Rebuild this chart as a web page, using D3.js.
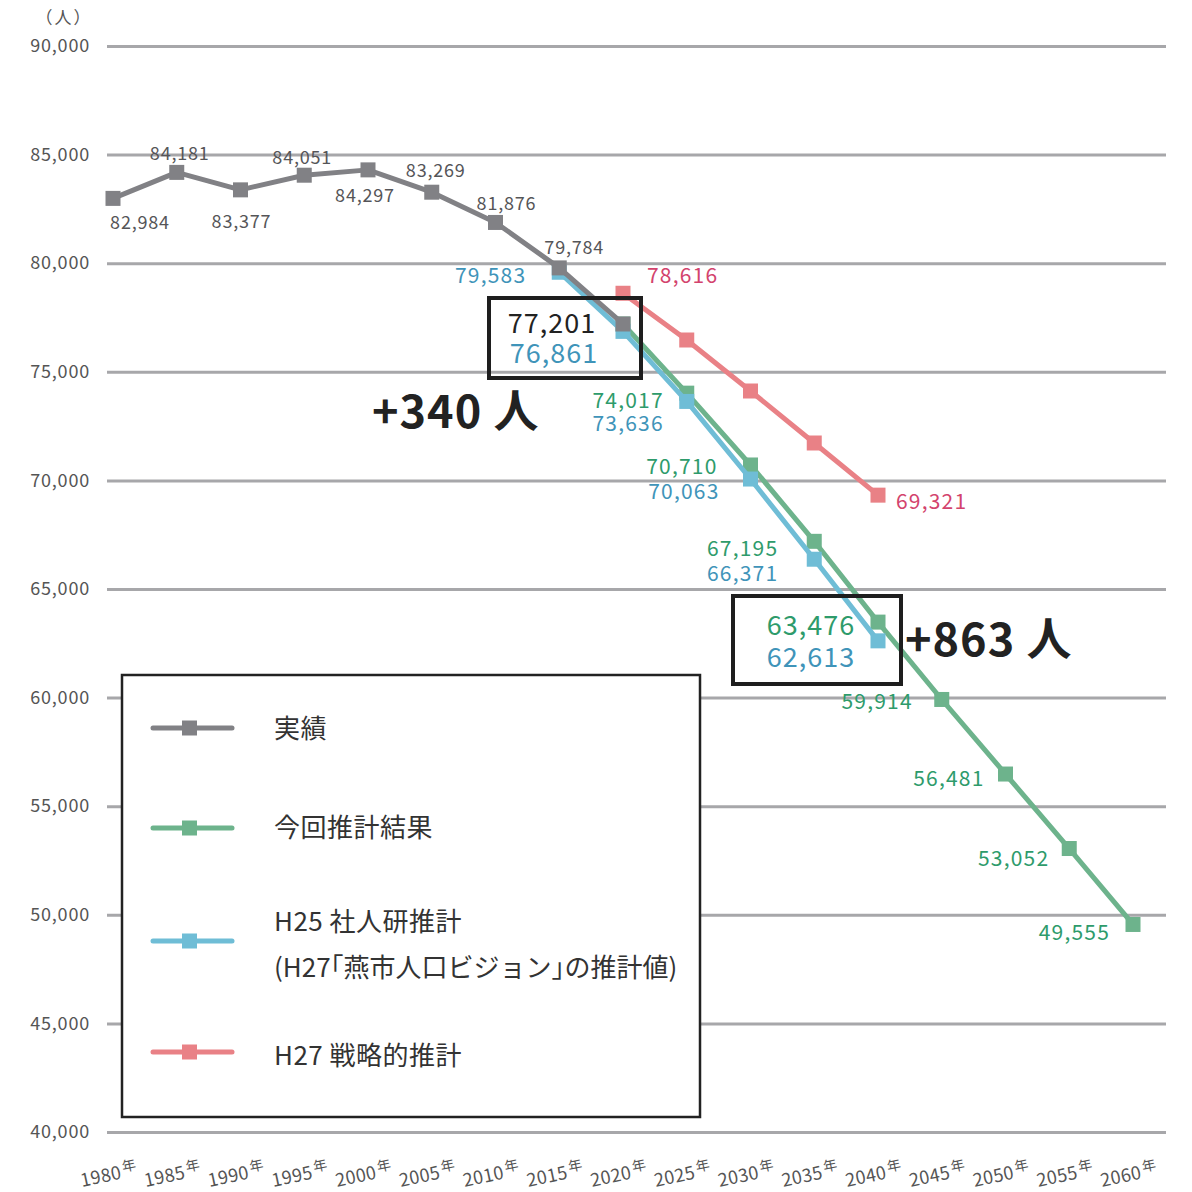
<!DOCTYPE html>
<html><head><meta charset="utf-8">
<script src="https://cdn.jsdelivr.net/npm/d3@7"></script>
<style>
body{margin:0;background:#fff;}
svg{display:block;font-family:"Noto Sans CJK JP","Noto Sans",sans-serif;}
</style></head>
<body>
<svg id="chart" width="1192" height="1192"></svg>
<script>
// ---- data ----
const years = [1980,1985,1990,1995,2000,2005,2010,2015,2020,2025,2030,2035,2040,2045,2050,2055,2060];
const yTicks = [40000,45000,50000,55000,60000,65000,70000,75000,80000,85000,90000];
const actualYears = [1980,1985,1990,1995,2000,2005,2010,2015,2020];
const actualValues = [82984,84181,83377,84051,84297,83269,81876,79784,77201];
const currentYears = [2020,2025,2030,2035,2040,2045,2050,2055,2060];
const currentValues = [77201,74017,70710,67195,63476,59914,56481,53052,49555];
const ipssYears = [2015,2020,2025,2030,2035,2040];
const ipssValues = [79583,76861,73636,70063,66371,62613];
const strategicYears = [2020,2025,2030,2035,2040];
const strategicValues = [78616,76464,74116,71722,69321];
const seriesNames = ["実績","今回推計結果","H25 社人研推計","H27 戦略的推計"];
const ipssNote = "(H27｢燕市人口ビジョン｣の推計値)";
const diffLabels = ["+340 人","+863 人"];

// ---- label placement (style) ----
const actualLabelOff = [[27,23],[3,-20],[1,30],[-2,-19],[-3,24],[4,-23],[11,-20],[15,-22],null];
const currentLabelOff = [null,[-23,6],[-33,0],[-36,6],null,[-29,1],[-21,3],[-20,8],[-23,7]];
const ipssLabelOff = [[-33,2],null,[-23,21],[-31,11],[-36,13],null];
const strategicLabelOff = [[24,-19],null,null,null,[18,5]];

const fmt = d3.format(",");
const svg = d3.select("#chart");
const x = d3.scalePoint().domain(years).range([113,1133]);
const y = d3.scaleLinear().domain([40000,90000]).range([1132,46]);

const C = {
  gray:"#818185", green:"#6db38c", blue:"#6fbdd6", red:"#e98186",
  grayT:"#555558", greenT:"#2e9b6b", blueT:"#3f94b9", redT:"#d3436d"
};

// grid + y labels
const yAxis = d3.axisLeft(y).tickValues(yTicks).tickSize(1059).tickPadding(17).tickFormat(fmt);
const ga = svg.append("g").attr("transform","translate(1166,0)").call(yAxis);
ga.select(".domain").remove();
ga.selectAll(".tick line").attr("stroke","#a7a7aa").attr("stroke-width",3);
ga.selectAll(".tick text").attr("fill","#555").attr("font-size",18).attr("letter-spacing",0.8)
  .style("font-family",'"Noto Sans CJK JP",sans-serif');

svg.append("text").attr("x",64).attr("y",24).attr("text-anchor","middle")
  .attr("fill","#555").attr("font-size",17).attr("letter-spacing",2).text("（人）");

// x labels
years.forEach(yr=>{
  const t = svg.append("text")
    .attr("transform",`translate(${x(yr)-3},1181) rotate(-12)`)
    .attr("text-anchor","middle").attr("fill","#555");
  t.append("tspan").attr("font-size",18).attr("letter-spacing",0.3).text(yr);
  t.append("tspan").attr("font-size",14).attr("dy",-6).attr("dx",2).text("年");
});

function drawSeries(yrs, vals, color){
  const pts = yrs.map((d,i)=>[x(d), y(vals[i])]);
  svg.append("path").attr("d", d3.line()(pts)).attr("fill","none")
    .attr("stroke",color).attr("stroke-width",5).attr("stroke-linejoin","round");
  svg.append("g").selectAll("rect").data(pts).join("rect")
    .attr("x",d=>d[0]-7.5).attr("y",d=>d[1]-7.5).attr("width",15).attr("height",15)
    .attr("fill",color);
}
function labels(yrs, vals, offs, color, size, anchor, ls){
  yrs.forEach((d,i)=>{
    const o = offs[i]; if(!o) return;
    svg.append("text").attr("x",x(d)+o[0]).attr("y",y(vals[i])+o[1])
      .attr("text-anchor",anchor).attr("dominant-baseline","central")
      .attr("letter-spacing",ls)
      .attr("fill",color).attr("font-size",size).text(fmt(vals[i]));
  });
}

drawSeries(strategicYears, strategicValues, C.red);
drawSeries(currentYears, currentValues, C.green);
drawSeries(ipssYears, ipssValues, C.blue);
drawSeries(actualYears, actualValues, C.gray);

labels(actualYears, actualValues, actualLabelOff, C.grayT, 18, "middle", 0.8);
labels(currentYears, currentValues, currentLabelOff, C.greenT, 21, "end", 1.2);
labels(ipssYears, ipssValues, ipssLabelOff, C.blueT, 21, "end", 1.2);
labels(strategicYears, strategicValues, strategicLabelOff, C.redT, 21, "start", 1.2);

// annotation boxes
function annBox(x0,y0,w,h){
  svg.append("rect").attr("x",x0).attr("y",y0).attr("width",w).attr("height",h)
    .attr("fill","none").attr("stroke","#1e1e1e").attr("stroke-width",4);
}
function annText(cx, cy, color, val){
  svg.append("text").attr("x",cx).attr("y",cy)
    .attr("text-anchor","middle").attr("dominant-baseline","central")
    .attr("letter-spacing",1).attr("fill",color).attr("font-size",27).text(fmt(val));
}
annBox(489,298,152,80);
annText(x(2020)-71, y(actualValues[8])-2, "#222", actualValues[8]);
annText(x(2020)-69, y(ipssValues[1])+20, C.blueT, ipssValues[1]);
svg.append("text").attr("x",372).attr("y",408).attr("dominant-baseline","central")
  .attr("fill","#222").attr("font-size",45).attr("letter-spacing",1).attr("font-weight","bold").text(diffLabels[0]);

annBox(733,596,168,88);
annText(x(2040)-67, y(currentValues[4])+1, C.greenT, currentValues[4]);
annText(x(2040)-67, y(ipssValues[5])+15, C.blueT, ipssValues[5]);
svg.append("text").attr("x",905).attr("y",636).attr("dominant-baseline","central")
  .attr("fill","#222").attr("font-size",45).attr("letter-spacing",1).attr("font-weight","bold").text(diffLabels[1]);

// legend
const lg = svg.append("g");
lg.append("rect").attr("x",122).attr("y",675).attr("width",578).attr("height",442)
  .attr("fill","#fff").attr("stroke","#222").attr("stroke-width",2.5);
const legendRows = [
  {name:seriesNames[0], color:C.gray, y:728, ty:[726]},
  {name:seriesNames[1], color:C.green, y:828, ty:[825]},
  {name:seriesNames[2], color:C.blue, y:941, ty:[919, 965]},
  {name:seriesNames[3], color:C.red, y:1052, ty:[1053]}
];
legendRows.forEach((r,i)=>{
  lg.append("line").attr("x1",153).attr("x2",232).attr("y1",r.y).attr("y2",r.y)
    .attr("stroke",r.color).attr("stroke-width",5).attr("stroke-linecap","round");
  lg.append("rect").attr("x",182).attr("y",r.y-7.5).attr("width",15).attr("height",15).attr("fill",r.color);
  lg.append("text").attr("x",274).attr("y",r.ty[0]).attr("dominant-baseline","central")
    .attr("fill","#333").attr("font-size",26).attr("letter-spacing",0.5).text(r.name);
  if(i===2){
    lg.append("text").attr("x",274).attr("y",r.ty[1]).attr("dominant-baseline","central")
      .attr("fill","#333").attr("font-size",26).text(ipssNote);
  }
});
</script>
</body></html>
